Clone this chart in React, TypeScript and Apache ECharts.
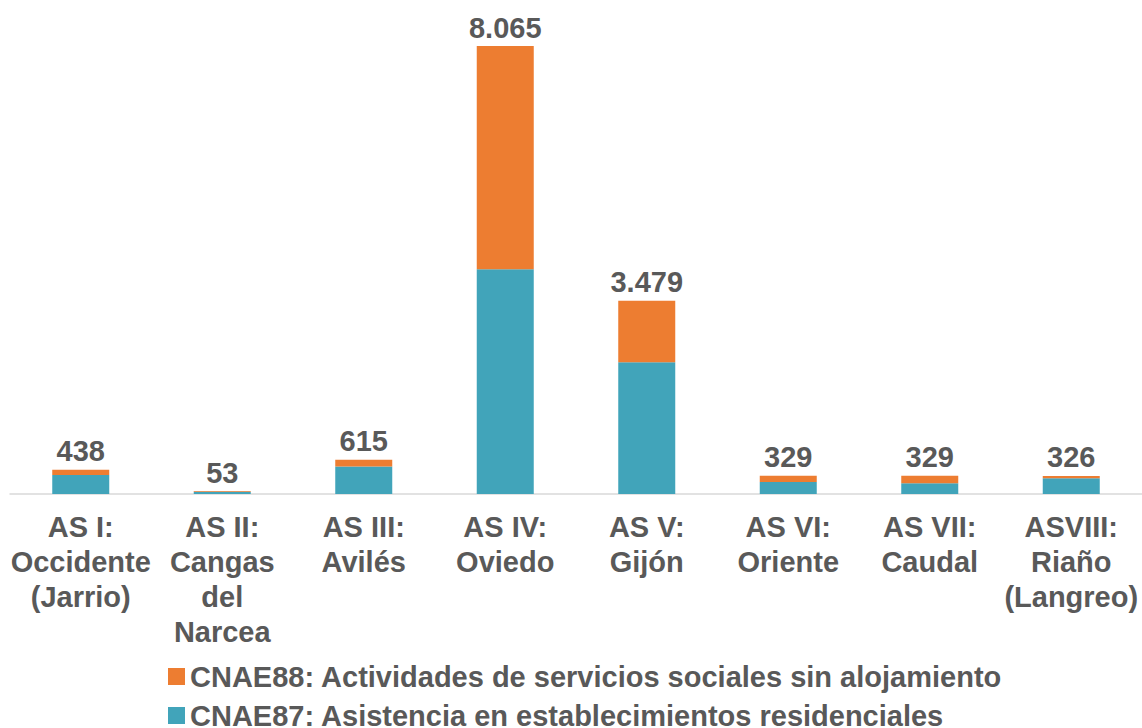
import React, { useEffect, useRef } from "react";
import * as echarts from "echarts";

const categories = [
  "AS I:\nOccidente\n(Jarrio)",
  "AS II:\nCangas\ndel\nNarcea",
  "AS III:\nAvilés",
  "AS IV:\nOviedo",
  "AS V:\nGijón",
  "AS VI:\nOriente",
  "AS VII:\nCaudal",
  "ASVIII:\nRiaño\n(Langreo)",
];
const seriesNames = [
  "CNAE88: Actividades de servicios sociales sin alojamiento",
  "CNAE87: Asistencia en establecimientos residenciales",
];
const totals = [438, 53, 615, 8065, 3479, 329, 329, 326];
const cnae87 = [342, 40, 495, 4047, 2372, 216, 192, 283];
const cnae88 = totals.map((t, i) => t - cnae87[i]);

const fmt = (v: number) => v.toString().replace(/\B(?=(\d{3})+(?!\d))/g, ".");

export default function App() {
  const ref = useRef<HTMLDivElement>(null);
  useEffect(() => {
    document.body.style.margin = "0";
    const chart = echarts.init(ref.current!, null, { renderer: "svg" });
    const font = "Liberation Sans";
    const legendText = { fontSize: 29, fontWeight: "bold", color: "#595959", fontFamily: font };
    chart.setOption({
      animation: false,
      textStyle: { fontFamily: font },
      grid: { left: 10, right: -12, top: 46, bottom: 234, containLabel: false },
      legend: [
        {
          left: 163,
          top: 657,
          itemWidth: 17,
          itemHeight: 17,
          itemGap: 10,
          icon: "rect",
          data: [seriesNames[0]],
          textStyle: legendText,
        },
        {
          left: 163,
          top: 696,
          itemWidth: 17,
          itemHeight: 17,
          icon: "rect",
          data: [seriesNames[1]],
          textStyle: legendText,
        },
      ],
      xAxis: {
        type: "category",
        data: categories,
        axisLine: { lineStyle: { color: "#D9D9D9", width: 1.5 } },
        axisTick: { show: false },
        axisLabel: {
          interval: 0,
          fontSize: 29,
          fontWeight: "bold",
          color: "#595959",
          lineHeight: 35,
          margin: 15,
          fontFamily: font,
        },
      },
      yAxis: { type: "value", min: 0, max: 8065, show: false, splitLine: { show: false } },
      series: [
        {
          name: seriesNames[1],
          type: "bar",
          stack: "t",
          data: cnae87,
          barWidth: 57,
          itemStyle: { color: "#41A4BA" },
        },
        {
          name: seriesNames[0],
          type: "bar",
          stack: "t",
          data: cnae88,
          barWidth: 57,
          itemStyle: { color: "#ED7D31" },
          label: {
            show: true,
            position: "top",
            distance: 4,
            fontSize: 29,
            fontWeight: "bold",
            color: "#595959",
            fontFamily: font,
            formatter: (p: any) => fmt(totals[p.dataIndex]),
          },
        },
      ],
    });
    return () => chart.dispose();
  }, []);
  return <div ref={ref} style={{ width: 1142, height: 728 }} />;
}
